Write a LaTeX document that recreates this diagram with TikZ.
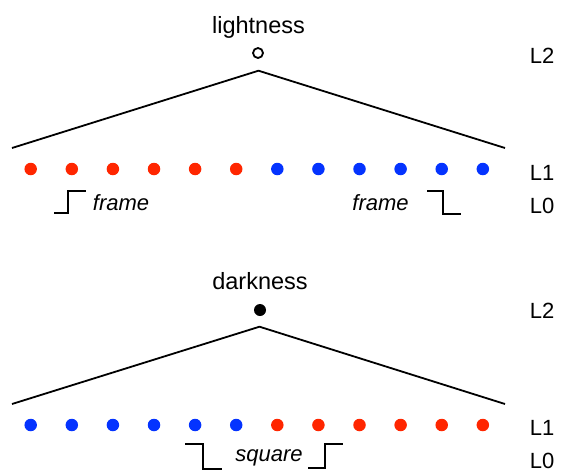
\documentclass[tikz,border=0pt]{standalone}
\usepackage{fontspec}
\setmainfont{Liberation Sans}
\definecolor{dred}{RGB}{255,38,0}
\definecolor{dblue}{RGB}{4,51,255}
\begin{document}
\begin{tikzpicture}[x=1pt,y=-1pt,
  txt/.style={font=\fontsize{22}{26}\selectfont, inner sep=0pt, anchor=base},
  ttl/.style={font=\fontsize{23.5}{28}\selectfont, inner sep=0pt, anchor=base},
  itxt/.style={txt, font=\fontsize{22}{26}\selectfont\itshape},
  dotr/.style={circle, fill=dred, minimum size=12.5pt, inner sep=0pt},
  dotb/.style={circle, fill=dblue, minimum size=12.5pt, inner sep=0pt},
  tree/.style={line width=1.8pt},
  stepline/.style={line width=1.9pt, line join=miter}]
\useasboundingbox (0,0) rectangle (562,472);

% ---------- top tree ----------
\node[ttl] (lt) at (258.5,33) {lightness};
\node[circle, draw, line width=1.8pt, minimum size=10pt, inner sep=0pt] (lc) at (258,53) {};
\coordinate (ta) at (258.5,70.7);
\coordinate (tl) at (12,148);
\coordinate (tr) at (505,148);
\draw[tree] (tl) -- (ta) -- (tr);
\foreach \i in {0,...,5} \node[dotr] (t\i) at ({30.7+41.1*\i},169) {};
\foreach \i in {6,...,11} \node[dotb] (t\i) at ({30.7+41.1*\i},169) {};
\node[txt] (l2a) at (542,63) {L2};
\node[txt] (l1a) at (542,180) {L1};
\node[txt] (l0a) at (542,213) {L0};
\node[itxt] (fa) at (121,210.7) {frame};
\node[itxt] (fb) at (380.5,210.7) {frame};
\draw[stepline] (54,213) -- (68,213) -- (68,191) -- (86,191);
\draw[stepline] (427,191) -- (443,191) -- (443,214) -- (461,214);

% ---------- bottom tree ----------
\node[ttl] (dk) at (260,289) {darkness};
\node[circle, fill=black, minimum size=12pt, inner sep=0pt] (dc) at (260,310) {};
\coordinate (ba) at (259.5,326.7);
\coordinate (bl) at (12,404);
\coordinate (br) at (505,404);
\draw[tree] (bl) -- (ba) -- (br);
\foreach \i in {0,...,5} \node[dotb] (b\i) at ({30.7+41.1*\i},425) {};
\foreach \i in {6,...,11} \node[dotr] (b\i) at ({30.7+41.1*\i},425) {};
\node[txt] (l2b) at (542,318) {L2};
\node[txt] (l1b) at (542,435) {L1};
\node[txt] (l0b) at (542,468.5) {L0};
\node[itxt] (sq) at (269,461.7) {square};
\draw[stepline] (185,444) -- (203.3,444) -- (203.3,469) -- (221.7,469);
\draw[stepline] (308,468) -- (325,468) -- (325,444) -- (343.3,444);
\end{tikzpicture}
\end{document}
